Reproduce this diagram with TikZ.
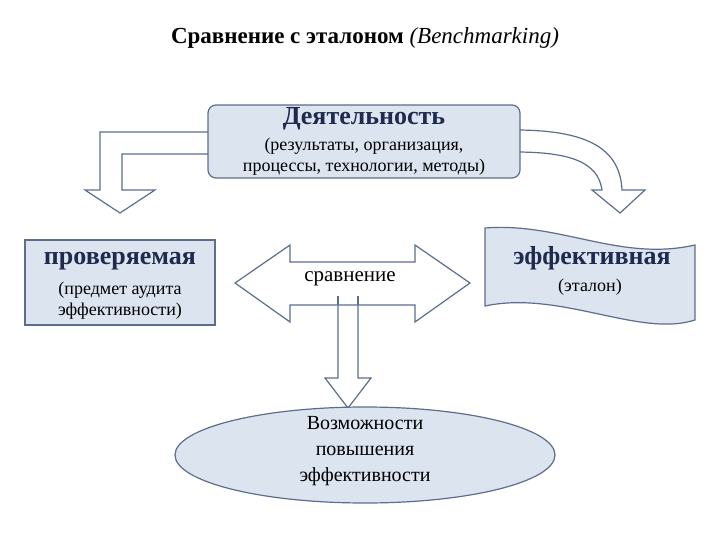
\documentclass[tikz,border=0pt]{standalone}
\usepackage{fontspec}
\setmainfont{Liberation Serif}
\usetikzlibrary{shapes.geometric}
\definecolor{fillb}{HTML}{DCE4F0}
\definecolor{strk}{HTML}{5C6E8C}
\definecolor{navy}{HTML}{1F2A4E}
\begin{document}
\begin{tikzpicture}[x=1pt,y=-1pt,
  shp/.style={draw=strk,line width=1.2pt,fill=fillb},
  arr/.style={draw=strk,line width=1.2pt,fill=white},
  hd/.style={font=\fontsize{26}{28}\selectfont\bfseries,text=navy},
  tx/.style={font=\fontsize{18}{21}\selectfont,align=center}]
\useasboundingbox (0,0) rectangle (720,540);
\node[font=\fontsize{23}{26}\selectfont] (title) at (365,38) {\textbf{Сравнение с эталоном} \textit{(Benchmarking)}};
% bent arrows
\draw[arr] (215,132) -- (100,132) -- (100,190) -- (85,190) -- (120,213) -- (155,190) -- (122,190) -- (122,154) -- (215,154) -- cycle;
\draw[arr] (515,130) .. controls (590,130) and (620,150) .. (622,190) -- (645,190) -- (620,213) -- (592,190) -- (602,190) .. controls (598,162) and (570,152) .. (515,152) -- cycle;
% top box
\draw[shp,rounded corners=8pt] (208,105) rectangle (520,178);
\node[hd] (act) at (364,119) {Деятельность};
\node[tx] (actt) at (364,157) {(результаты, организация,\\процессы, технологии, методы)};
% left box
\draw[shp] (25,240) rectangle (215,325);
\node[hd] (chk) at (120,261) {проверяемая};
\node[tx] (chkt) at (120,301) {(предмет аудита\\эффективности)};
% down arrow
\draw[arr] (338,300) -- (338,378) -- (325,378) -- (348,408) -- (371,378) -- (358,378) -- (358,300);
% double arrow
\draw[arr] (235,283) -- (290,245) -- (290,262) -- (415,262) -- (415,245) -- (470,283) -- (415,322) -- (415,305) -- (290,305) -- (290,322) -- cycle;
\draw[strk,line width=1.2pt] (338,296) -- (338,305) (358,296) -- (358,305);
\node[tx,font=\fontsize{21}{24}\selectfont] (cmp) at (350,279) {сравнение};
% ellipse
\node[shp,ellipse,minimum width=380pt,minimum height=96pt] (ell) at (365,455) {};
\node[tx,font=\fontsize{20}{26}\selectfont] (ellt) at (365,451) {Возможности\\повышения\\эффективности};
% wave shape
\draw[shp] (485,228) .. controls (560,222) and (620,262) .. (695,245) -- (695,320) .. controls (640,338) and (560,290) .. (485,306) -- cycle;
\node[hd] (eff) at (592,258) {эффективная};
\node[tx] (efft) at (590,287) {(эталон)};
\end{tikzpicture}
\end{document}
